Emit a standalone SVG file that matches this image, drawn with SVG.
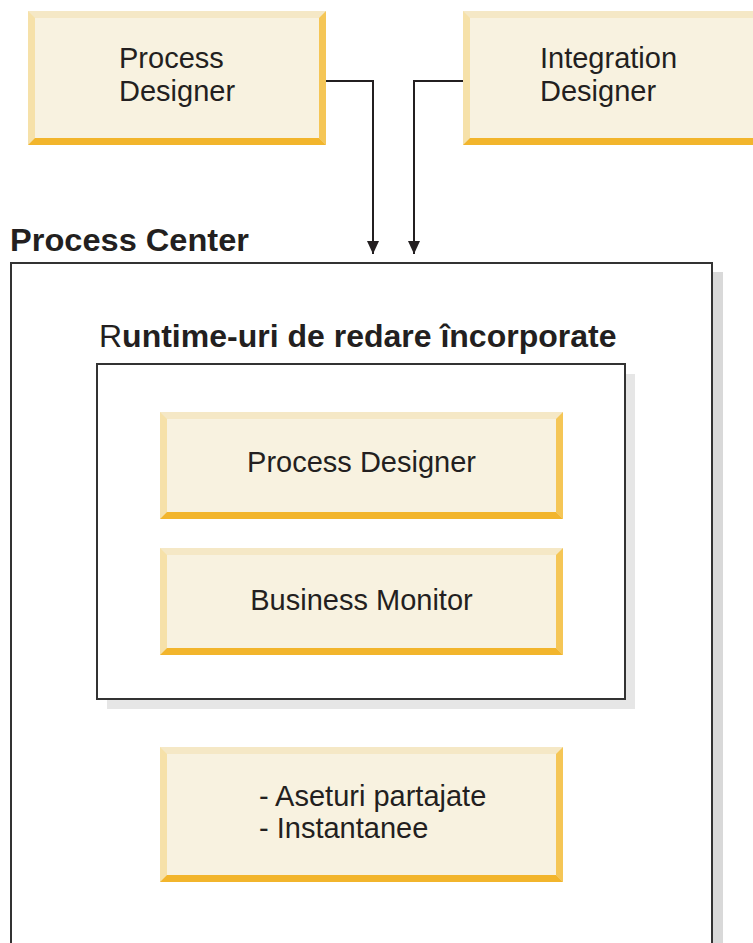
<svg xmlns="http://www.w3.org/2000/svg" width="753" height="943" viewBox="0 0 753 943">
<style>
text{font-family:"Liberation Sans",Arial,sans-serif;fill:#231f20}
.t{font-size:29px}
.title{font-size:32px;font-weight:bold}
.face{fill:#f8f2e0}
.bt{fill:#f5e8c6}
.bl{fill:#f6e1a9}
.br{fill:#f5c656}
.bb{fill:#f2b52c}
.frame{fill:#fff;stroke:#333;stroke-width:2}
.conn{fill:none;stroke:#231f20;stroke-width:2}
</style>
<defs>
<marker id="arr" markerUnits="userSpaceOnUse" markerWidth="13" markerHeight="12" refX="13" refY="6" orient="auto">
<path d="M0,0 L13,6 L0,12 z" fill="#231f20"/>
</marker>
</defs>
<rect width="753" height="943" fill="#fff"/>

<g id="process-center">
<rect x="21" y="272" width="702" height="700" fill="#d9d9d9"/>
<rect class="frame" x="11" y="263" width="701" height="700"/>
<text class="title" x="10" y="251" textLength="239" lengthAdjust="spacingAndGlyphs">Process Center</text>
</g>

<g id="runtimes">
<rect x="107" y="374" width="528" height="335" fill="#e6e6e6"/>
<rect class="frame" x="97" y="364" width="528" height="335"/>
<text class="title" x="99" y="347"><tspan font-weight="normal">R</tspan>untime-uri de redare încorporate</text>
</g>

<g id="top-process-designer">
<rect class="bt" x="28" y="11" width="298" height="134"/>
<polygon class="bl" points="28,11 35,18 35,138 28,145"/>
<polygon class="br" points="326,11 319,18 319,138 326,145"/>
<polygon class="bb" points="28,145 35,138 319,138 326,145"/>
<rect class="face" x="35" y="18" width="284" height="120"/>
<text class="t" x="119" y="68">Process</text>
<text class="t" x="119" y="101">Designer</text>
</g>

<g id="integration-designer">
<rect class="bt" x="463" y="11" width="300" height="134"/>
<polygon class="bl" points="463,11 470,18 470,138 463,145"/>
<polygon class="bb" points="463,145 470,138 763,138 763,145"/>
<rect class="face" x="470" y="18" width="293" height="120"/>
<text class="t" x="540" y="68">Integration</text>
<text class="t" x="540" y="101">Designer</text>
</g>

<g id="inner-process-designer">
<rect class="bt" x="160" y="412" width="403" height="107"/>
<polygon class="bl" points="160,412 167,419 167,512 160,519"/>
<polygon class="br" points="563,412 556,419 556,512 563,519"/>
<polygon class="bb" points="160,519 167,512 556,512 563,519"/>
<rect class="face" x="167" y="419" width="389" height="93"/>
<text class="t" x="361.5" y="472" text-anchor="middle">Process Designer</text>
</g>

<g id="business-monitor">
<rect class="bt" x="160" y="548" width="403" height="107"/>
<polygon class="bl" points="160,548 167,555 167,648 160,655"/>
<polygon class="br" points="563,548 556,555 556,648 563,655"/>
<polygon class="bb" points="160,655 167,648 556,648 563,655"/>
<rect class="face" x="167" y="555" width="389" height="93"/>
<text class="t" x="361.5" y="610" text-anchor="middle">Business Monitor</text>
</g>

<g id="shared-assets">
<rect class="bt" x="160" y="747" width="403" height="135"/>
<polygon class="bl" points="160,747 167,754 167,875 160,882"/>
<polygon class="br" points="563,747 556,754 556,875 563,882"/>
<polygon class="bb" points="160,882 167,875 556,875 563,882"/>
<rect class="face" x="167" y="754" width="389" height="121"/>
<text class="t" x="259" y="806">- Aseturi partajate</text>
<text class="t" x="259" y="838">- Instantanee</text>
</g>

<g id="connectors">
<path class="conn" d="M326,81 H373 V254" marker-end="url(#arr)"/>
<path class="conn" d="M463,81 H414 V254" marker-end="url(#arr)"/>
</g>
</svg>
